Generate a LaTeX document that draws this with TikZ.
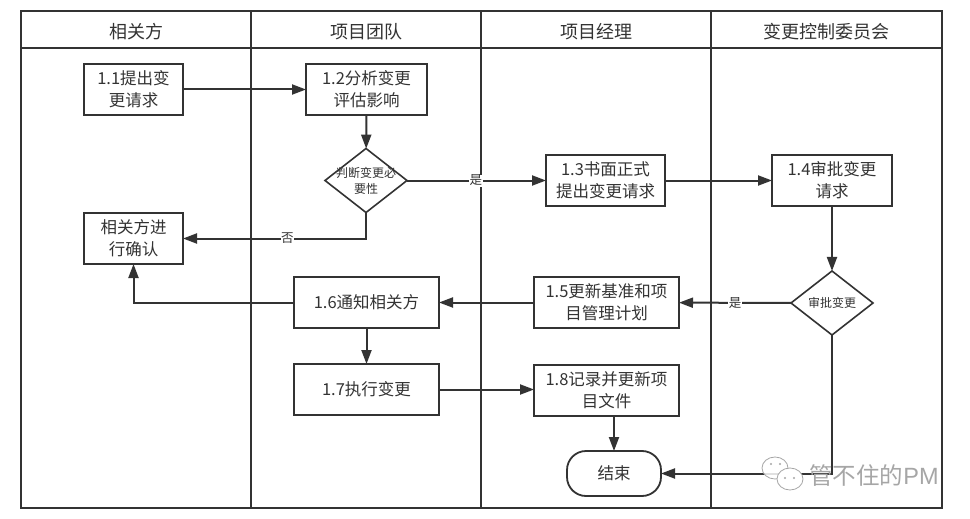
\documentclass[tikz,border=0pt]{standalone}
\usepackage{fontspec}
\setmainfont{Noto Sans CJK SC}
\newfontfamily\latinwm{Liberation Sans}
\usetikzlibrary{arrows.meta,shapes.geometric,calc}
\definecolor{ink}{HTML}{333333}
\tikzset{
  every node/.style={text=ink,font=\fontsize{16.5}{22}\selectfont,inner sep=0pt,outer sep=0pt},
  lane/.style={draw=ink,line width=1.8pt},
  stepbox/.style={draw=ink,line width=1.8pt,fill=white,align=center,minimum height=51pt},
  decide/.style={draw=ink,line width=1.6pt,fill=white,diamond,aspect=1.28,inner xsep=-8pt,inner ysep=-4pt,minimum width=82pt,minimum height=64pt,align=center,font=\fontsize{12}{16}\selectfont},
  finish/.style={draw=ink,line width=1.8pt,fill=white,rounded corners=19pt,minimum width=94pt,minimum height=45pt},
  flow/.style={draw=ink,line width=2pt,-{Triangle[length=14pt,width=10pt]}},
  tag/.style={fill=white,font=\fontsize{12.5}{13}\selectfont,inner sep=0.5pt},
  head/.style={font=\fontsize{18}{22}\selectfont}
}
\begin{document}
\begin{tikzpicture}[x=1pt,y=-1pt]
\useasboundingbox (0,0) rectangle (970,519);
\fill[white] (0,0) rectangle (970,519);
% lanes
\draw[lane] (21,11) rectangle (942,508);
\draw[lane] (21,48) -- (942,48);
\draw[lane] (251,11) -- (251,508);
\draw[lane] (481,11) -- (481,508);
\draw[lane] (711,11) -- (711,508);
\node[head] (h1) at (136,32) {相关方};
\node[head] (h2) at (366,32) {项目团队};
\node[head] (h3) at (596,32) {项目经理};
\node[head] (h4) at (826,32) {变更控制委员会};
% nodes
\node[stepbox,minimum width=99pt] (n11) at (133.5,89.5) {1.1提出变\\更请求};
\node[stepbox,minimum width=121pt] (n12) at (366.5,89.5) {1.2分析变更\\评估影响};
\node[decide] (d1) at (366,180.5) {判断变更必\\要性};
\node[stepbox,minimum width=99pt] (nc) at (133.5,238.5) {相关方进\\行确认};
\node[stepbox,minimum width=119pt] (n13) at (605.5,180.5) {1.3书面正式\\提出变更请求};
\node[stepbox,minimum width=120pt] (n14) at (832,180.5) {1.4审批变更\\请求};
\node[decide] (d2) at (832,303) {审批变更};
\node[stepbox,minimum width=145pt] (n15) at (606.5,302.5) {1.5更新基准和项\\目管理计划};
\node[stepbox,minimum width=145pt] (n16) at (366.5,302.5) {1.6通知相关方};
\node[stepbox,minimum width=145pt] (n17) at (366.5,389.5) {1.7执行变更};
\node[stepbox,minimum width=145pt] (n18) at (606.5,390.5) {1.8记录并更新项\\目文件};
\node[finish] (end) at (614,473.5) {结束};
% connectors
\draw[flow] (n11) -- (n12);
\draw[flow] (n12) -- (d1);
\draw[flow] (d1) -- (n13) node[tag,pos=0.496] (y1) {是};
\draw[flow] (d1.south) |- (nc.east) node[tag,pos=0.715] (no1) {否};
\draw[flow] (n13.east) -- (n14.west);
\draw[flow] (n14) -- (d2);
\draw[flow] (d2) -- (n15) node[tag,pos=0.5] (y2) {是};
\draw[flow] (n15) -- (n16);
\draw[flow] (n16.west) -| (nc.south);
\draw[flow] (n16) -- (n17);
\draw[flow] (n17.east) -- (n17.east -| n18.west);
\draw[flow] (n18.south -| end.north) -- (end.north);
\draw[flow] (d2.south) |- (end.east);
% watermark
\draw[fill=white,fill opacity=0.85,draw=gray!70,line width=0.8pt] (775,468) ellipse (13 and 11);
\draw[fill=white,draw=gray!70,line width=0.8pt] (790,479) ellipse (13 and 11);
\fill[gray!70] (771,464) circle (1.1) (780,464) circle (1.1) (785,478) circle (1.1) (794,478) circle (1.1);
\node[font=\fontsize{23.5}{25}\selectfont,text=gray!70] (wm) at (874,476) {管不住的{\latinwm PM}};
\end{tikzpicture}
\end{document}
